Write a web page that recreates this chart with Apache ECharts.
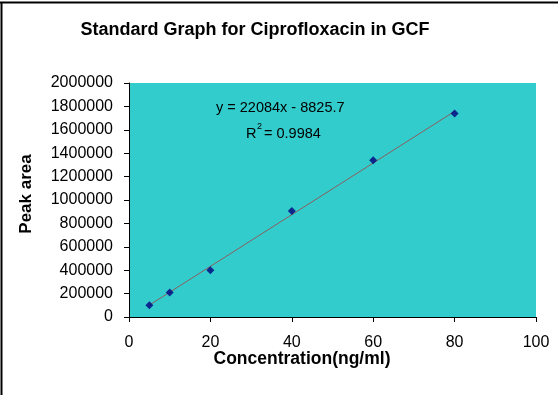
<!DOCTYPE html>
<html>
<head>
<meta charset="utf-8">
<script src="https://cdn.jsdelivr.net/npm/echarts@6/dist/echarts.min.js"></script>
<style>html,body{margin:0;padding:0;background:#fff;}#c{width:558px;height:395px;}</style>
</head>
<body>
<div id="c"></div>
<script>
var concentration = [5, 10, 20, 40, 60, 80];
var peakArea = [100000, 210000, 400000, 905000, 1340000, 1740000];
var trendSlope = 22084;
var trendIntercept = -8825.7;
var trendX = [5, 80];
var xTicks = [0, 20, 40, 60, 80, 100];
var yTicks = [0, 200000, 400000, 600000, 800000, 1000000, 1200000, 1400000, 1600000, 1800000, 2000000];

var chart = echarts.init(document.getElementById('c'), null, {renderer: 'canvas'});
var pts = concentration.map(function (x, i) { return [x, peakArea[i]]; });
var trend = trendX.map(function (x) { return [x, trendSlope * x + trendIntercept]; });
var font = 'Arial, "Liberation Sans", sans-serif';

chart.setOption({
  animation: false,
  backgroundColor: '#ffffff',
  title: {
    text: 'Standard Graph for Ciprofloxacin in GCF',
    left: 250, top: 16, textAlign: 'center',
    textStyle: {fontFamily: font, fontSize: 18, fontWeight: 'bold', color: '#000'}
  },
  grid: {left: 129, right: 22, top: 83, bottom: 78, show: true, backgroundColor: '#33CCCC', borderWidth: 0},
  xAxis: {
    type: 'value', min: xTicks[0], max: xTicks[xTicks.length - 1], interval: 20,
    axisLine: {show: true, lineStyle: {color: '#000', width: 1}},
    axisTick: {show: true, length: 5, lineStyle: {color: '#000'}},
    axisLabel: {fontFamily: font, fontSize: 16, color: '#000', margin: 18,
      formatter: function (v) { return String(v); }},
    splitLine: {show: false}
  },
  yAxis: {
    type: 'value', min: yTicks[0], max: yTicks[yTicks.length - 1], interval: 200000,
    axisLine: {show: true, lineStyle: {color: '#000', width: 1}},
    axisTick: {show: true, length: 5, lineStyle: {color: '#000'}},
    axisLabel: {fontFamily: font, fontSize: 16, color: '#000', margin: 16,
      formatter: function (v) { return String(v); }},
    splitLine: {show: false}
  },
  series: [
    {
      type: 'line', data: trend, symbol: 'none', silent: true,
      lineStyle: {color: '#8B5E5E', width: 1}, z: 2
    },
    {
      type: 'scatter', data: pts, symbol: 'diamond', symbolSize: 8,
      itemStyle: {color: '#000080'}, z: 3
    }
  ],
  graphic: [
    {type: 'line', shape: {x1: 1.5, y1: 2, x2: 1.5, y2: 395}, style: {stroke: '#000', lineWidth: 2}},
    {type: 'line', shape: {x1: 0, y1: 2.5, x2: 558, y2: 2.5}, style: {stroke: '#000', lineWidth: 2}},
    {type: 'text', x: 302, y: 359, style: {text: 'Concentration(ng/ml)', font: 'bold 17.5px ' + font, fill: '#000', align: 'center', verticalAlign: 'middle'}},
    {type: 'text', x: 26, y: 194, rotation: Math.PI / 2, style: {text: 'Peak area', font: 'bold 17px ' + font, fill: '#000', align: 'center', verticalAlign: 'middle'}},
    {type: 'text', left: 216, top: 100, style: {text: 'y = 22084x - 8825.7', font: '14.5px ' + font, fill: '#000'}},
    {type: 'text', left: 246, top: 126, style: {text: 'R', font: '14.5px ' + font, fill: '#000'}},
    {type: 'text', left: 257, top: 122, style: {text: '2', font: '9px ' + font, fill: '#000'}},
    {type: 'text', left: 264, top: 126, style: {text: '= 0.9984', font: '14.5px ' + font, fill: '#000'}}
  ]
});
</script>
</body>
</html>
